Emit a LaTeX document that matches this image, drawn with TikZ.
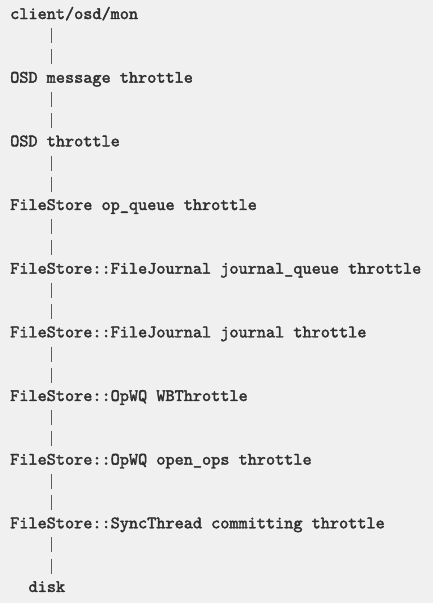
\documentclass[tikz,border=0pt]{standalone}
\usepackage{fontspec}
\newfontfamily\codefont{lmmono10-regular.otf}[FakeBold=2.2]
\usetikzlibrary{positioning}
\definecolor{codebg}{HTML}{F0F0F0}
\definecolor{codetext}{HTML}{303030}
\definecolor{pipegray}{HTML}{5C5C5C}
\tikzset{
  layer/.style={anchor=base west,inner sep=0pt,text=codetext,
    font=\codefont\fontsize{17.4}{20}\selectfont},
  pipe/.style={draw=pipegray,line width=1.3pt,dash pattern=on 15pt off 6.2pt}
}

\begin{document}
\begin{tikzpicture}[x=1pt,y=1pt]
        \useasboundingbox (0,0) rectangle (433,-603);
        \fill[codebg] (0,0) rectangle (433,-603);
        % one label every third text line
        \foreach \lbl [count=\k] in {client/osd/mon,
            OSD message throttle,
            OSD throttle,
            FileStore op\_queue throttle,
            FileStore::FileJournal journal\_queue throttle,
            FileStore::FileJournal journal throttle,
            FileStore::OpWQ WBThrottle,
            FileStore::OpWQ open\_ops throttle,
            FileStore::SyncThread committing throttle}
        {
            \node[layer] (l\k) at (10,{-19-(\k-1)*63.66}) {\lbl};
            \coordinate (p\k) at (51.3,{-19-(\k-1)*63.66});
        }
        \node[layer] (l10) at (28.4,{-19-9*63.66}) {disk};
        \coordinate (p10) at (51.3,{-19-9*63.66});
        \foreach \k [evaluate=\k as \n using int(\k+1)] in {1,...,9}
            \draw[pipe] ([yshift=-9.2pt]p\k) -- ([yshift=18.26pt]p\n);
      \end{tikzpicture}
\end{document}
